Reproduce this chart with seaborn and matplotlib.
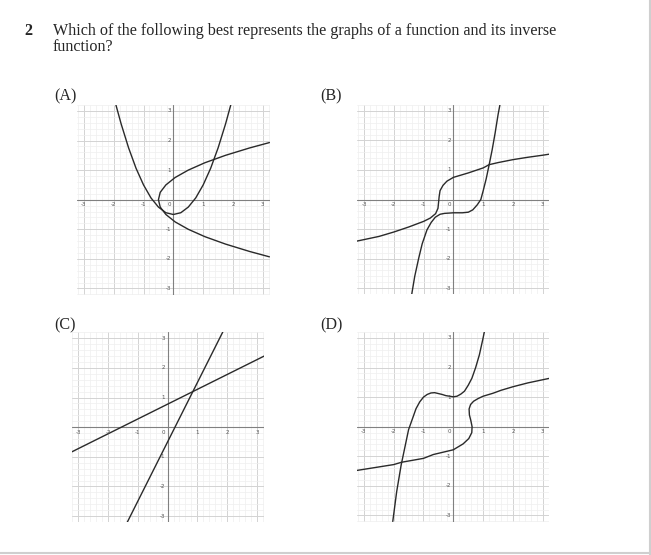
import numpy as np
import pandas as pd
import matplotlib
matplotlib.use("Agg")
import matplotlib.pyplot as plt
import seaborn as sns
from matplotlib.lines import Line2D

# values
# (A) parabola, its inverse is the same points with x and y swapped
a_x = [-1.93, -1.75, -1.5, -1.25, -1.0, -0.75, -0.5, -0.25, 0.0, 0.25, 0.5, 0.75, 1.0, 1.25, 1.5, 1.75, 1.93]
a_y = [3.22, 2.56, 1.75, 1.06, 0.5, 0.06, -0.25, -0.44, -0.5, -0.44, -0.25, 0.06, 0.5, 1.06, 1.75, 2.56, 3.22]

# (B) steep curve and flat curve
b1_x = [-1.4, -1.3, -1.17, -1.05, -0.89, -0.75, -0.61, -0.45, -0.3, 0.0, 0.3, 0.5, 0.65, 0.8, 0.92, 1.0, 1.1, 1.2, 1.3, 1.4, 1.5, 1.56]
b1_y = [-3.2, -2.6, -2.0, -1.5, -1.03, -0.78, -0.6, -0.5, -0.47, -0.45, -0.45, -0.43, -0.35, -0.18, 0.0, 0.3, 0.7, 1.18, 1.68, 2.25, 2.88, 3.2]
b2_x = [-3.25, -2.5, -2.0, -1.5, -1.0, -0.78, -0.6, -0.52, -0.5, -0.48, -0.45, -0.35, -0.22, 0.0, 0.5, 1.0, 1.2, 1.5, 2.0, 2.5, 3.0, 3.25]
b2_y = [-1.41, -1.25, -1.1, -0.93, -0.74, -0.63, -0.48, -0.3, -0.1, 0.1, 0.3, 0.48, 0.62, 0.75, 0.9, 1.07, 1.18, 1.25, 1.35, 1.43, 1.5, 1.54]

# (C) two straight lines
c1_x = [-1.35, 1.88]
c1_y = [-3.2, 3.26]
c2_x = [-3.25, 3.25]
c2_y = [-0.85, 2.4]

# (D) cubic-like curve and S curve
d1_x = [-2.03, -1.9, -1.75, -1.5, -1.25, -1.125, -1.0, -0.875, -0.75, -0.625, -0.5, -0.375, -0.25,
        0.0, 0.125, 0.25, 0.375, 0.5, 0.625, 0.75, 0.875, 1.0, 1.04]
d1_y = [-3.2, -2.2, -1.3, -0.1, 0.61, 0.84, 1.0, 1.09, 1.14, 1.15, 1.12, 1.09, 1.05,
        1.01, 1.03, 1.1, 1.2, 1.4, 1.64, 2.0, 2.43, 3.0, 3.2]
d2_x = [-3.25, -3.0, -2.0, -1.73, -1.0, -0.67, 0.0, 0.33, 0.52, 0.62, 0.63, 0.59, 0.54, 0.53, 0.58, 0.68,
        0.83, 1.0, 1.33, 1.6, 2.0, 2.5, 3.25]
d2_y = [-1.48, -1.44, -1.28, -1.2, -1.07, -0.94, -0.78, -0.58, -0.4, -0.2, 0.0, 0.2, 0.4, 0.6, 0.75, 0.86,
        0.95, 1.03, 1.13, 1.23, 1.35, 1.48, 1.64]

labels = ["(A)", "(B)", "(C)", "(D)"]
tick_vals = [-3, -2, -1, 1, 2, 3]

sns.set_style("white")
plt.rcParams["font.family"] = ["Liberation Serif", "DejaVu Serif"]

W, H = 651, 555
fig = plt.figure(figsize=(W / 100, H / 100), dpi=100)
fig.patch.set_facecolor("white")


def make_axes(left, top, right, bottom):
    return fig.add_axes([left / W, 1 - bottom / H, (right - left) / W, (bottom - top) / H])


def style_axes(ax, xlim, ylim):
    ax.set_xlim(*xlim)
    ax.set_ylim(*ylim)
    ax.set_xticks(np.arange(-3, 4, 1))
    ax.set_yticks(np.arange(-3, 4, 1))
    ax.set_xticks(np.arange(-3.2, 3.3, 0.2), minor=True)
    ax.set_yticks(np.arange(-3.2, 3.3, 0.2), minor=True)
    ax.grid(which="minor", color="#efefef", lw=0.5)
    ax.grid(which="major", color="#d3d3d3", lw=0.7)
    ax.tick_params(which="both", length=0, labelbottom=False, labelleft=False)
    for s in ax.spines.values():
        s.set_visible(False)
    ax.set_axisbelow(True)
    ax.axhline(0, color="#808080", lw=0.8, zorder=1.5)
    ax.axvline(0, color="#808080", lw=0.8, zorder=1.5)
    for v in tick_vals:
        ax.text(v, -0.17, str(v), fontsize=4, color="#555555", ha="center", va="center",
                family="DejaVu Sans")
        ax.text(-0.08, v, str(v), fontsize=4, color="#555555", ha="right", va="center",
                family="DejaVu Sans")
    ax.text(-0.08, -0.17, "0", fontsize=4, color="#555555", ha="right", va="center",
            family="DejaVu Sans")
    ax.set_xlabel("")
    ax.set_ylabel("")


def curve(ax, xs, ys):
    sns.lineplot(x=xs, y=ys, ax=ax, sort=False, estimator=None, color="#2a2a2a", lw=1.0)


axA = make_axes(77, 105, 270, 295)
style_axes(axA, (-3.23, 3.24), (-3.22, 3.15))
curve(axA, a_x, a_y)
curve(axA, a_y, a_x)

axB = make_axes(357, 105, 549, 294)
style_axes(axB, (-3.24, 3.21), (-3.19, 3.15))
curve(axB, b1_x, b1_y)
curve(axB, b2_x, b2_y)

axC = make_axes(72, 332, 264, 522)
style_axes(axC, (-3.21, 3.24), (-3.17, 3.21))
curve(axC, c1_x, c1_y)
curve(axC, c2_x, c2_y)

axD = make_axes(357, 332, 549, 522)
style_axes(axD, (-3.23, 3.21), (-3.22, 3.15))
curve(axD, d1_x, d1_y)
curve(axD, d2_x, d2_y)

# question text
fs = 11.6
fig.text(24 / W, 1 - 35 / H, "2", fontsize=fs, fontweight="bold", ha="left", va="baseline")
fig.text(53 / W, 1 - 35 / H,
         "Which of the following best represents the graphs of a function and its inverse",
         fontsize=fs, ha="left", va="baseline")
fig.text(53 / W, 1 - 51 / H, "function?", fontsize=fs, ha="left", va="baseline")

label_pos = [(54, 100), (320, 100), (54, 329), (320, 329)]
for lab, (lx, ly) in zip(labels, label_pos):
    fig.text(lx / W, 1 - ly / H, lab, fontsize=fs, ha="left", va="baseline")

# page border lines at right and bottom
fig.add_artist(Line2D([650 / W, 650 / W], [0, 1], transform=fig.transFigure, color="#cfcfcf", lw=1.5))
fig.add_artist(Line2D([0, 1], [2 / H, 2 / H], transform=fig.transFigure, color="#cfcfcf", lw=1.5))

fig.savefig("out.png", dpi=100)
